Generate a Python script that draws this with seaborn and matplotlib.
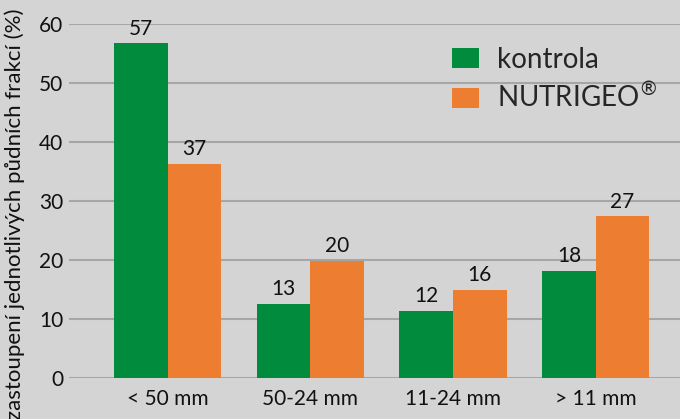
import pandas as pd
import numpy as np
import matplotlib.pyplot as plt
import seaborn as sns

# Data
fractions = ["< 50 mm", "50-24 mm", "11-24 mm", "> 11 mm"]
kontrola = [56.7, 12.6, 11.4, 18.1]
nutrigeo = [36.3, 19.8, 15.0, 27.4]
kontrola_labels = ["57", "13", "12", "18"]
nutrigeo_labels = ["37", "20", "16", "27"]
series = ["kontrola", "NUTRIGEO$^{®}$"]

df = pd.DataFrame({
    "frakce": fractions * 2,
    "hodnota": kontrola + nutrigeo,
    "varianta": [series[0]] * 4 + [series[1]] * 4,
})

bg = "#d4d4d4"
sns.set_style("whitegrid")
plt.rcParams["font.family"] = ["Lato", "DejaVu Sans"]

fig = plt.figure(figsize=(6.8, 4.19), dpi=100, facecolor=bg)
ax = fig.add_axes([69 / 680, 41 / 419, 611 / 680, 354 / 419])
ax.set_facecolor(bg)

sns.barplot(
    data=df, x="frakce", y="hodnota", hue="varianta",
    palette=["#008c3c", "#ed7d31"], saturation=1, width=0.75,
    gap=0, ax=ax, zorder=3, linewidth=0, edgecolor="none",
)

# Value labels above bars
labels = kontrola_labels + nutrigeo_labels
for bar, lab in zip(ax.patches, labels):
    ax.text(bar.get_x() + bar.get_width() / 2, bar.get_height() + 0.8, lab,
            ha="center", va="bottom", fontsize=15, color="#111111")

ax.set_ylim(0, 60)
ax.set_yticks(range(0, 61, 10))
ax.set_xlim(-0.69, 3.59)
ax.grid(axis="y", color="#a6a6a6", linewidth=1.5)
ax.grid(axis="x", visible=False)
for s in ax.spines.values():
    s.set_visible(False)
ax.tick_params(axis="both", length=0, labelsize=15, labelcolor="#111111")
ax.tick_params(axis="x", pad=8)
ax.tick_params(axis="y", pad=4)
ax.set_xlabel("")
ax.set_ylabel("")

fig.text(15 / 680, 1 - 9 / 419, "zastoupení jednotlivých půdních frakcí (%)",
         rotation=90, ha="center", va="top", fontsize=16, color="#111111")

ax.legend(
    loc="upper left", bbox_to_anchor=(0.627, 0.935), frameon=False,
    fontsize=20, handlelength=0.97, handleheight=0.72, handletextpad=0.65,
    labelspacing=0.34, borderpad=0, borderaxespad=0,
)

fig.savefig("out.png", dpi=100, facecolor=bg)
